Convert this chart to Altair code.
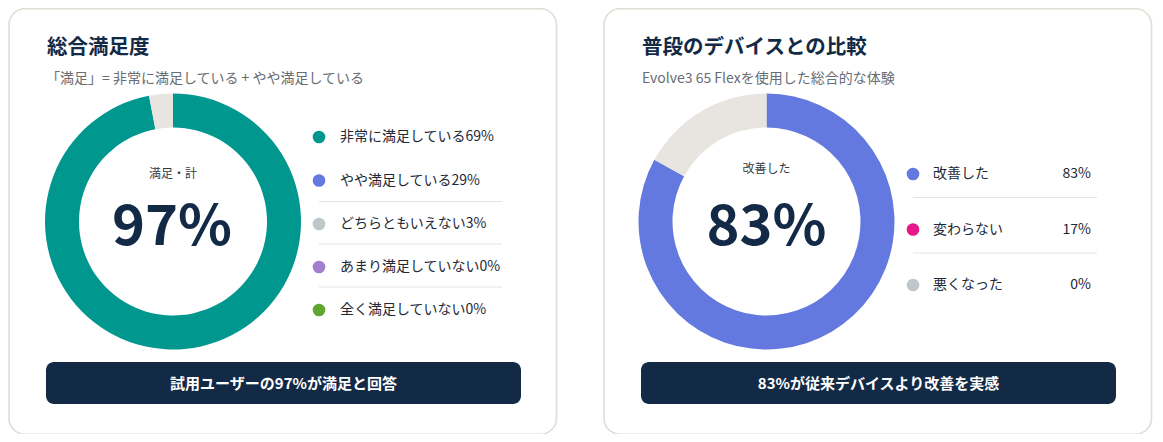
import altair as alt
import pandas as pd

# ---------------- data ----------------
sat_labels = ["非常に満足している", "やや満足している", "どちらともいえない", "あまり満足していない", "全く満足していない"]
sat_values = [69, 29, 3, 0, 0]
sat_ring = [97, 3]          # 満足・計 / その他

cmp_labels = ["改善した", "変わらない", "悪くなった"]
cmp_values = [83, 17, 0]
cmp_ring = [83, 17]         # 改善した / その他

titles = ["総合満足度", "普段のデバイスとの比較"]
subtitles = ["「満足」= 非常に満足している + やや満足している", "Evolve3 65 Flexを使用した総合的な体験"]
center_labels = ["満足・計", "改善した"]
center_values = ["97%", "83%"]
button_texts = ["試用ユーザーの97%が満足と回答", "83%が従来デバイスより改善を実感"]

# ---------------- styles ----------------
FONT = "Noto Sans CJK JP"
NAVY = "#132A46"
TEXT = "#1E2937"
SUB = "#686C73"
RING_REST = "#E8E5E0"
CARD_STROKE = "#E0DDD5"
sat_colors = ["#00978F", "#6479E0", "#BEC7CA", "#A27FCC", "#5EA630"]
cmp_colors = ["#6479E0", "#E7168B", "#BEC7CA"]

# ---------------- layout (page pixels) ----------------
OX, OY = 8, 8
W, H = 1147, 426
XS = alt.Scale(domain=[OX, OX + W], nice=False, zero=False)
YS = alt.Scale(domain=[OY, OY + H], nice=False, zero=False, reverse=True)


def X(f="x"):
    return alt.X(f"{f}:Q", scale=XS, axis=None)


def Y(f="y"):
    return alt.Y(f"{f}:Q", scale=YS, axis=None)


layers = []

# cards
cards = pd.DataFrame({"x": [9, 604], "x2": [556.5, 1151.5], "y": [8.8, 8.8], "y2": [434.2, 434.2]})
layers.append(
    alt.Chart(cards).mark_rect(cornerRadius=16, fill="white", stroke=CARD_STROKE, strokeWidth=1.6)
    .encode(x=X(), x2="x2:Q", y=Y(), y2="y2:Q")
)

# titles
tdf = pd.DataFrame({"x": [47, 642], "y": [54, 54], "t": titles})
layers.append(
    alt.Chart(tdf).mark_text(font=FONT, fontSize=20.5, fontWeight="bold", color=NAVY, align="left", baseline="alphabetic")
    .encode(x=X(), y=Y(), text="t:N")
)
sdf = pd.DataFrame({"x": [46, 642], "y": [83, 83], "t": subtitles})
layers.append(
    alt.Chart(sdf).mark_text(font=FONT, fontSize=14, color=SUB, align="left", baseline="alphabetic")
    .encode(x=X(), y=Y(), text="t:N")
)

# donuts
centers = [(173, 221.5), (766.5, 221.5)]
for ring, main_color, (cx, cy) in zip([sat_ring, cmp_ring], [sat_colors[0], cmp_colors[0]], centers):
    rdf = pd.DataFrame({"k": [0, 1], "v": ring, "c": [main_color, RING_REST]})
    layers.append(
        alt.Chart(rdf).mark_arc(radius=128, innerRadius=94)
        .encode(
            x=alt.value(cx - OX), y=alt.value(cy - OY),
            theta=alt.Theta("v:Q", stack=True),
            color=alt.Color("c:N", scale=None),
            order=alt.Order("k:Q"),
        )
    )

# center texts
cl = pd.DataFrame({"x": [173, 766.5], "y": [178, 173], "t": center_labels})
layers.append(
    alt.Chart(cl).mark_text(font=FONT, fontSize=12, color="#333A44", align="center", baseline="alphabetic")
    .encode(x=X(), y=Y(), text="t:N")
)
cv = pd.DataFrame({"x": [172, 766.5], "y": [245, 245], "t": center_values})
layers.append(
    alt.Chart(cv).mark_text(font=FONT, fontSize=56, fontWeight="bold", color=NAVY, align="center", baseline="alphabetic")
    .encode(x=X(), y=Y(), text="t:N")
)

# left legend
left_rows = [137, 180.5, 224, 267, 310]
ldf = pd.DataFrame({
    "x": 319, "tx": 340, "y": left_rows,
    "t": [f"{l}{v}%" for l, v in zip(sat_labels, sat_values)],
    "c": sat_colors,
})
layers.append(
    alt.Chart(ldf).mark_circle(size=160, opacity=1)
    .encode(x=X(), y=Y(), color=alt.Color("c:N", scale=None))
)
layers.append(
    alt.Chart(ldf).mark_text(font=FONT, fontSize=14, color=TEXT, align="left", baseline="middle")
    .encode(x=X("tx"), y=Y(), text="t:N")
)
lsep = pd.DataFrame({"x": 319, "x2": 502, "y": [201.5, 244, 287]})
layers.append(
    alt.Chart(lsep).mark_rule(color="#E3E4E6", strokeWidth=1.2)
    .encode(x=X(), x2="x2:Q", y=Y())
)

# right legend
right_rows = [174, 229.5, 285]
rdf = pd.DataFrame({
    "x": 913, "tx": 933, "vx": 1091, "y": right_rows,
    "t": cmp_labels, "v": [f"{v}%" for v in cmp_values], "c": cmp_colors,
})
layers.append(
    alt.Chart(rdf).mark_circle(size=160, opacity=1)
    .encode(x=X(), y=Y(), color=alt.Color("c:N", scale=None))
)
layers.append(
    alt.Chart(rdf).mark_text(font=FONT, fontSize=14, color=TEXT, align="left", baseline="middle")
    .encode(x=X("tx"), y=Y(), text="t:N")
)
layers.append(
    alt.Chart(rdf).mark_text(font=FONT, fontSize=14, color=TEXT, align="right", baseline="middle")
    .encode(x=X("vx"), y=Y(), text="v:N")
)
rsep = pd.DataFrame({"x": 913, "x2": 1097, "y": [197.5, 253]})
layers.append(
    alt.Chart(rsep).mark_rule(color="#E3E4E6", strokeWidth=1.2)
    .encode(x=X(), x2="x2:Q", y=Y())
)

# buttons
bdf = pd.DataFrame({"x": [46, 641], "x2": [521, 1116], "y": [362, 362], "y2": [404, 404],
                    "cx": [283.5, 878.5], "cy": [383.5, 383.5], "t": button_texts})
layers.append(
    alt.Chart(bdf).mark_rect(cornerRadius=8, fill=NAVY)
    .encode(x=X(), x2="x2:Q", y=Y(), y2="y2:Q")
)
layers.append(
    alt.Chart(bdf).mark_text(font=FONT, fontSize=15, fontWeight="bold", color="white", align="center", baseline="middle")
    .encode(x=X("cx"), y=Y("cy"), text="t:N")
)

chart = (
    alt.layer(*layers)
    .properties(width=W, height=H, padding=0, autosize=alt.AutoSizeParams(type="none"), background="white")
    .configure_view(stroke=None)
)

chart.save("out.html", embed_options={"renderer": "svg", "actions": False})
